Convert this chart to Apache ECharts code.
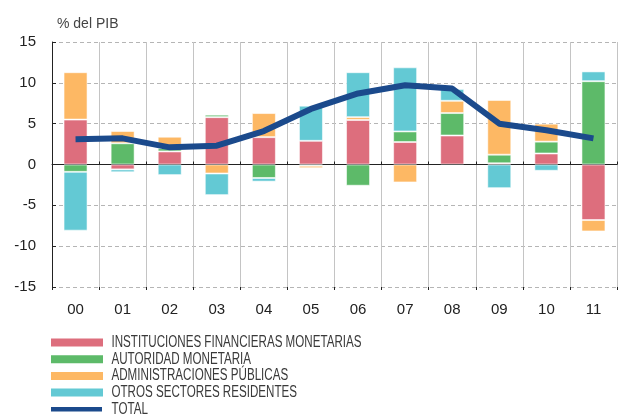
<!DOCTYPE html>
<html>
<head>
<meta charset="utf-8">
<script src="https://cdn.jsdelivr.net/npm/echarts@6/dist/echarts.min.js"></script>
<style>
  html, body { margin: 0; padding: 0; background: #fff; }
  #chart { width: 619px; height: 415px; }
</style>
</head>
<body>
<div id="chart"></div>
<script>
// Years (2000-2011) shown as two-digit labels
const categories = ['00', '01', '02', '03', '04', '05', '06', '07', '08', '09', '10', '11'];

// Contributions by sector, % of GDP
const ifm       = [5.5, -0.6, 1.6, 5.8, 3.35, 2.9, 5.45, 2.75, 3.55, 0.15, 1.35, -6.8];
const autoridad = [-0.9, 2.6, 0.4, 0.3, -1.65, -0.15, -2.6, 1.3, 2.75, 1.05, 1.45, 10.2];
const admin     = [5.8, 1.5, 1.4, -1.1, 2.95, -0.3, 0.35, -2.2, 1.5, 6.7, 2.2, -1.4];
const otros     = [-7.2, -0.35, -1.3, -2.65, -0.45, 4.3, 5.5, 7.85, 1.45, -2.9, -0.77, 1.2];
const total     = [3.1, 3.2, 2.1, 2.3, 4.1, 6.8, 8.7, 9.7, 9.3, 5.0, 4.2, 3.2];

const yTicks = [-15, -10, -5, 0, 5, 10, 15];

const names = [
  'INSTITUCIONES FINANCIERAS MONETARIAS',
  'AUTORIDAD MONETARIA',
  'ADMINISTRACIONES PÚBLICAS',
  'OTROS SECTORES RESIDENTES',
  'TOTAL'
];
const colors = ['#dd6e7d', '#5dba69', '#fdb864', '#63c9d4', '#1b4a8c'];

const chart = echarts.init(document.getElementById('chart'), null, { renderer: 'canvas' });

function barSeries(i, data) {
  return {
    name: names[i],
    type: 'bar',
    stack: 'sectores',
    data: data,
    barWidth: 24,
    itemStyle: { color: colors[i], borderColor: 'rgba(255,255,255,0.55)', borderWidth: 1 },
    emphasis: { disabled: true },
    z: 2
  };
}

// Legend: condensed labels, drawn as a vertical key under the plot
const legendFont = '16px "Liberation Sans", Arial, sans-serif';
const measureCtx = document.createElement('canvas').getContext('2d');
measureCtx.font = legendFont;
const longest = measureCtx.measureText(names[0]).width;
const squeeze = 250 / longest;

const legendTop = 342.5;
const legendStep = 16.7;
const legendGraphics = names.map(function (name, i) {
  const cy = legendTop + i * legendStep;
  const isLine = i === names.length - 1;
  const h = isLine ? 4.5 : 8;
  return {
    type: 'group',
    children: [
      {
        type: 'rect',
        shape: { x: 51, y: cy - h / 2, width: isLine ? 51 : 52, height: h },
        style: { fill: colors[i] }
      },
      {
        type: 'text',
        x: 111.5,
        y: cy,
        scaleX: squeeze,
        style: {
          text: name,
          font: legendFont,
          fill: '#3a3a3a',
          textVerticalAlign: 'middle',
          verticalAlign: 'middle'
        }
      }
    ]
  };
});

const option = {
  animation: false,
  textStyle: { fontFamily: 'Liberation Sans, Arial, sans-serif' },
  title: {
    text: '% del PIB',
    left: 52,
    top: 12,
    textStyle: { fontSize: 14, fontWeight: 'normal', color: '#444', fontFamily: 'Liberation Sans, Arial, sans-serif' }
  },
  grid: { left: 52, right: 2, top: 42, bottom: 128, containLabel: false },
  legend: { show: false },
  graphic: legendGraphics,
  xAxis: [
    {
      type: 'category',
      data: categories,
      position: 'bottom',
      axisLine: { show: false, onZero: false },
      axisTick: { show: false },
      axisLabel: { fontSize: 15, color: '#222', margin: 15 },
      splitLine: { show: true, lineStyle: { color: '#c4c4c4', width: 1 } }
    },
    {
      type: 'category',
      data: categories,
      position: 'bottom',
      axisLine: { show: true, onZero: true, lineStyle: { color: '#222', width: 1 } },
      axisTick: { show: true, inside: true, length: 3, lineStyle: { color: '#222' } },
      axisLabel: { show: false },
      splitLine: { show: false }
    },
    {
      type: 'category',
      data: categories,
      position: 'bottom',
      axisLine: { show: false, onZero: true },
      axisTick: { show: true, inside: false, length: 3, lineStyle: { color: '#222' } },
      axisLabel: { show: false },
      splitLine: { show: false }
    }
  ],
  yAxis: {
    type: 'value',
    min: yTicks[0],
    max: yTicks[yTicks.length - 1],
    interval: 5,
    axisLine: { show: true, lineStyle: { color: '#222', width: 1 } },
    axisTick: { show: true, inside: true, length: 4, lineStyle: { color: '#222' } },
    axisLabel: { fontSize: 15, color: '#222', margin: 16 },
    splitLine: { show: true, lineStyle: { color: '#b5b5b5', type: [4, 3], width: 1 } }
  },
  series: [
    barSeries(0, ifm),
    barSeries(1, autoridad),
    barSeries(2, admin),
    barSeries(3, otros),
    {
      name: names[4],
      type: 'line',
      data: total,
      symbol: 'none',
      lineStyle: { color: colors[4], width: 6 },
      itemStyle: { color: colors[4] },
      emphasis: { disabled: true },
      z: 5
    }
  ]
};

chart.setOption(option);
</script>
</body>
</html>
